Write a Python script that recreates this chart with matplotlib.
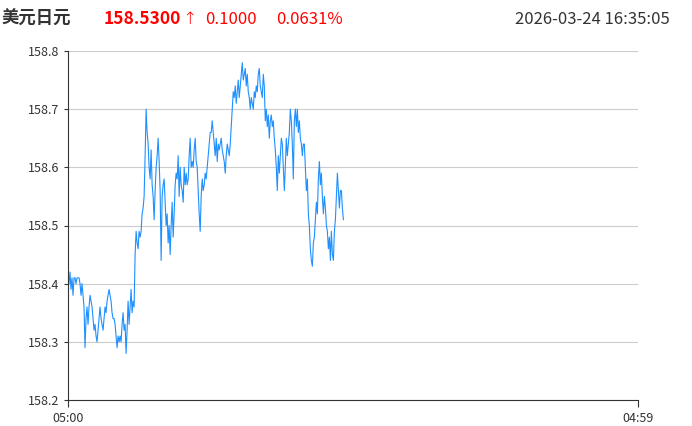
import numpy as np
import matplotlib
matplotlib.use("Agg")
import matplotlib.pyplot as plt

plt.rcParams['font.family'] = ['Noto Sans CJK SC', 'DejaVu Sans']

# header info
pair_name = "美元日元"
last_price = "158.5300"
direction = "↑"
change = "0.1000"
change_pct = "0.0631%"
timestamp = "2026-03-24 16:35:05"

# axis labels
x_tick_labels = ["05:00", "04:59"]
y_ticks = [158.2, 158.3, 158.4, 158.5, 158.6, 158.7, 158.8]

# minutes between samples (session starts 05:00, ~16:35 now)
step_minutes = 2.53

prices = [
    158.40, 158.42, 158.39, 158.41, 158.38, 158.41, 158.41, 158.40, 158.41, 158.41,
    158.41, 158.40, 158.38, 158.40, 158.38, 158.36, 158.29, 158.34, 158.36, 158.33,
    158.36, 158.38, 158.37, 158.36, 158.34, 158.32, 158.33, 158.31, 158.30, 158.32,
    158.34, 158.36, 158.34, 158.33, 158.32, 158.34, 158.36, 158.35, 158.37, 158.38,
    158.39, 158.38, 158.37, 158.35, 158.34, 158.34, 158.33, 158.31, 158.29, 158.31,
    158.30, 158.31, 158.30, 158.33, 158.35, 158.32, 158.33, 158.28, 158.32, 158.37,
    158.33, 158.36, 158.39, 158.35, 158.37, 158.36, 158.45, 158.49, 158.47, 158.46,
    158.49, 158.48, 158.49, 158.52, 158.53, 158.55, 158.62, 158.70, 158.66, 158.64,
    158.60, 158.58, 158.63, 158.57, 158.55, 158.51, 158.56, 158.60, 158.62, 158.65,
    158.61, 158.56, 158.44, 158.55, 158.57, 158.58, 158.54, 158.50, 158.52, 158.47,
    158.50, 158.45, 158.50, 158.54, 158.48, 158.52, 158.57, 158.59, 158.58, 158.62,
    158.55, 158.60, 158.57, 158.56, 158.54, 158.60, 158.57, 158.59, 158.57, 158.58,
    158.62, 158.65, 158.60, 158.61, 158.60, 158.63, 158.65, 158.61, 158.60, 158.56,
    158.52, 158.49, 158.55, 158.58, 158.56, 158.57, 158.59, 158.58, 158.60, 158.62,
    158.64, 158.66, 158.66, 158.68, 158.66, 158.64, 158.62, 158.65, 158.61, 158.64,
    158.63, 158.64, 158.65, 158.63, 158.62, 158.61, 158.59, 158.62, 158.64, 158.63,
    158.62, 158.64, 158.67, 158.70, 158.73, 158.72, 158.74, 158.71, 158.73, 158.75,
    158.72, 158.74, 158.76, 158.78, 158.75, 158.76, 158.77, 158.74, 158.76, 158.73,
    158.72, 158.70, 158.72, 158.71, 158.70, 158.73, 158.72, 158.74, 158.73, 158.76,
    158.77, 158.74, 158.73, 158.72, 158.76, 158.74, 158.68, 158.70, 158.67, 158.69,
    158.65, 158.68, 158.69, 158.67, 158.68, 158.65, 158.63, 158.60, 158.56, 158.62,
    158.59, 158.62, 158.65, 158.64, 158.60, 158.56, 158.60, 158.65, 158.62, 158.64,
    158.66, 158.70, 158.68, 158.64, 158.58, 158.68, 158.70, 158.67, 158.70, 158.66,
    158.68, 158.65, 158.64, 158.62, 158.64, 158.64, 158.60, 158.56, 158.58, 158.52,
    158.50, 158.46, 158.44, 158.43, 158.47, 158.48, 158.51, 158.54, 158.52, 158.58,
    158.61, 158.57, 158.59, 158.55, 158.52, 158.55, 158.53, 158.50, 158.49, 158.46,
    158.48, 158.44, 158.49, 158.45, 158.44, 158.49, 158.51, 158.55, 158.59, 158.56,
    158.53, 158.56, 158.56, 158.53, 158.51,
]

minutes = np.arange(1, len(prices) + 1) * step_minutes

fig = plt.figure(figsize=(6.92, 4.26), dpi=100)
ax = fig.add_axes([68 / 692, 1 - 400 / 426, 570 / 692, 349 / 426])

ax.plot(minutes, prices, color="#1E90FF", linewidth=0.8)

ax.set_xlim(0, 1440)
ax.set_ylim(158.2, 158.8)
ax.set_yticks(y_ticks)
ax.set_yticklabels([f"{v:.1f}" for v in y_ticks])
ax.set_xticks([0, 1440])
ax.set_xticklabels(x_tick_labels)

ax.grid(axis="y", color="#cccccc", linewidth=0.8)
ax.set_axisbelow(True)
for side in ["top", "right"]:
    ax.spines[side].set_visible(False)
for side in ["left", "bottom"]:
    ax.spines[side].set_color("#333333")
    ax.spines[side].set_linewidth(0.8)
ax.tick_params(axis="y", length=3, width=0.8, color="#333333", labelsize=9, labelcolor="#333333", pad=3)
ax.tick_params(axis="x", length=5, width=0.8, color="#333333", labelsize=9, labelcolor="#333333", pad=4)

# header line
hy = 1 - 19 / 426
fig.text(2 / 692, hy, pair_name, fontsize=12.5, fontweight="bold", color="#333333", va="center")
price_txt = fig.text(104 / 692, hy, last_price, fontsize=12.5, fontweight="bold", color="#ff0000", va="center")
fig.text(182 / 692, hy, direction, fontsize=12.5, color="#ff0000", va="center",
         family=["DejaVu Sans"], fontweight="light")
fig.text(205 / 692, hy, change, fontsize=12, color="#ff0000", va="center")
fig.text(276 / 692, hy, change_pct, fontsize=12, color="#ff0000", va="center")
fig.text(670 / 692, hy, timestamp, fontsize=12, color="#333333", va="center", ha="right")

fig.savefig("out.png", dpi=100)
